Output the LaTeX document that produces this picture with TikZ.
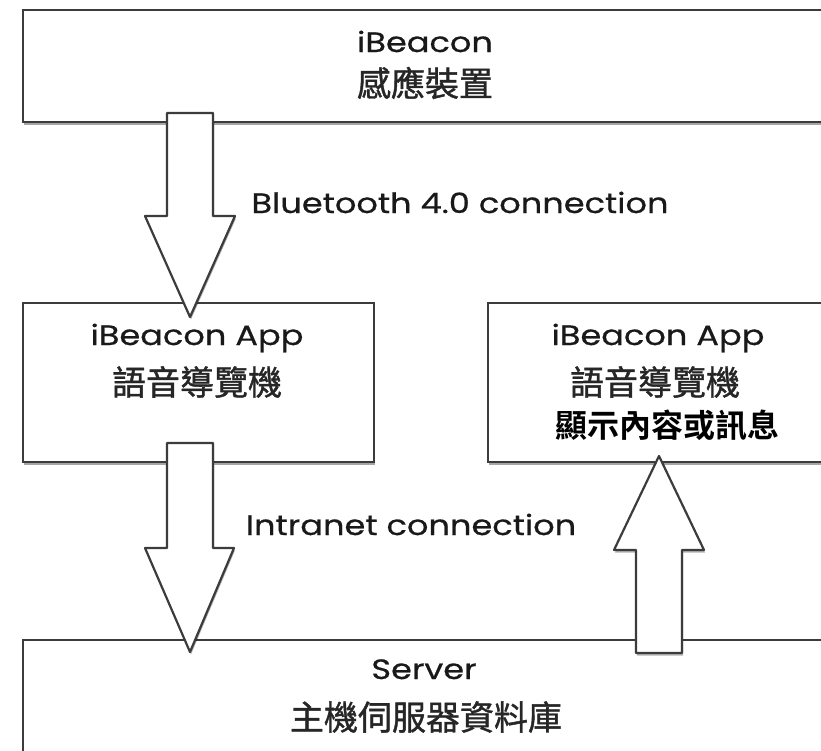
\documentclass[tikz,border=0pt]{standalone}
\usepackage{fontspec}
\usetikzlibrary{shadows}
\newfontfamily\lat[FakeStretch=1.2, FakeBold=0.6]{Poppins}
\newfontfamily\cjk[FakeBold=1.2]{Noto Sans CJK TC}
\newfontfamily\cjkb{Noto Sans CJK TC Bold}
\definecolor{edge}{HTML}{3C3C3C}
\tikzset{
  box/.style={draw=edge, line width=2.6pt, fill=white, drop shadow={shadow xshift=1pt, shadow yshift=-3pt, fill=black, opacity=0.35}},
  barrow/.style={draw=edge, line width=2.2pt, fill=white, line join=round, drop shadow={shadow xshift=1pt, shadow yshift=-2.5pt, fill=black, opacity=0.3}},
  lbl/.style={inner sep=0pt, anchor=base, font=\lat\fontsize{28}{30}\selectfont, text=black!90},
  zh/.style={inner sep=0pt, anchor=center, font=\cjk\fontsize{34}{36}\selectfont, text=black!85},
}
\begin{document}
\begin{tikzpicture}[x=1pt, y=-1pt]
\useasboundingbox (0,0) rectangle (821,750);
\clip (0,0) rectangle (821,750);
% boxes
\draw[box] (23,10) rectangle (840,122);
\draw[box] (23,303) rectangle (374,462);
\draw[box] (488,303) rectangle (840,462);
\draw[box] (23,640) rectangle (840,760);
\fill[white] (512,397) rectangle (805,458);
% block arrows
\draw[barrow] (167,113) -- (213,113) -- (213,216) -- (235,216) -- (190,317) -- (145,216) -- (167,216) -- cycle;
\draw[barrow] (167,443) -- (213,443) -- (213,548) -- (234,548) -- (190,652) -- (145,548) -- (167,548) -- cycle;
\draw[barrow] (636,653) -- (682,653) -- (682,550) -- (704,550) -- (659,456) -- (614,550) -- (636,550) -- cycle;
% texts
\node[lbl] (t1) at (425,52) {iBeacon};
\node[zh] (t2) at (425,83) {感應裝置};
\node[lbl] (t3) at (460,213) {Bluetooth 4.0 connection};
\node[lbl] (t4) at (197,345) {iBeacon App};
\node[zh] (t5) at (197,382) {語音導覽機};
\node[lbl] (t6) at (658,345) {iBeacon App};
\node[zh] (t7) at (655,382) {語音導覽機};
\node[inner sep=0pt, font=\cjkb\fontsize{32}{34}\selectfont] (t8) at (667,425) {顯示內容或訊息};
\node[lbl] (t9) at (411,535) {Intranet connection};
\node[lbl] (t10) at (424,679) {Server};
\node[zh] (t11) at (426,717) {主機伺服器資料庫};
\end{tikzpicture}
\end{document}
